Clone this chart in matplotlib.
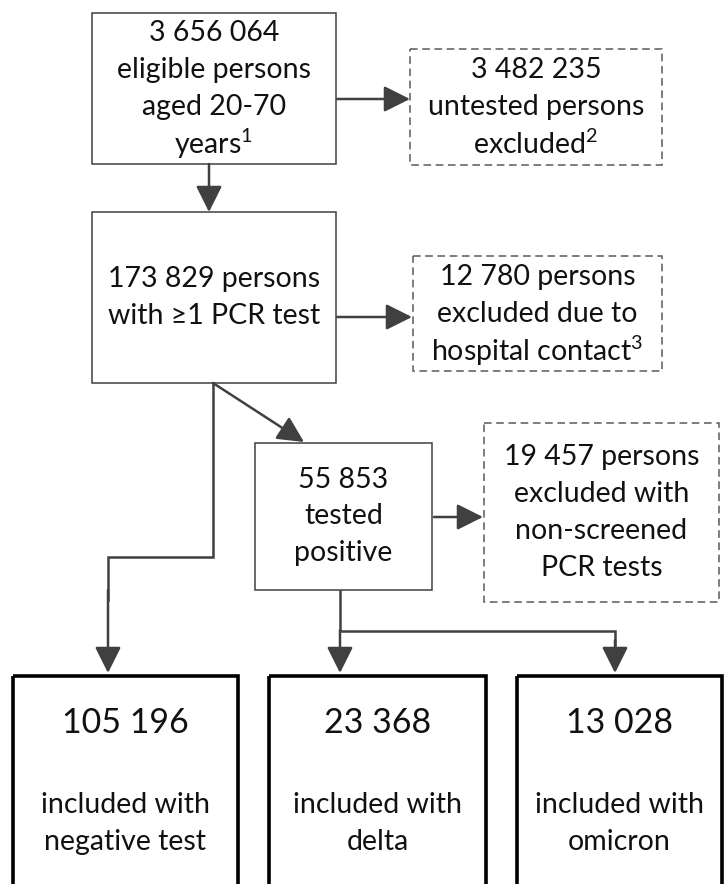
#!/usr/bin/env python3
# -*- coding: utf-8 -*-
"""Study population flowchart (PCR screening cohort)."""

import matplotlib

matplotlib.use("Agg")
import matplotlib.pyplot as plt
from matplotlib.patches import Rectangle

plt.rcParams["font.family"] = ["Lato", "DejaVu Sans"]
plt.rcParams["mathtext.fontset"] = "custom"
plt.rcParams["mathtext.rm"] = "Lato"
plt.rcParams["mathtext.it"] = "Lato:italic"

# box texts (counts and descriptions)
eligible_lines = ["3 656 064", "eligible persons", "aged 20-70", r"years$^{\mathrm{1}}$"]
untested_lines = ["3 482 235", "untested persons", r"excluded$^{\mathrm{2}}$"]
tested_lines = ["173 829 persons", "with \u22651 PCR test"]
hospital_lines = ["12 780 persons", "excluded due to", r"hospital contact$^{\mathrm{3}}$"]
positive_lines = ["55 853", "tested", "positive"]
nonscreen_lines = ["19 457 persons", "excluded with", "non-screened", "PCR tests"]
final_counts = ["105 196", "23 368", "13 028"]
final_labels = [["included with", "negative test"], ["included with", "delta"],
                ["included with", "omicron"]]

LINE = "#404040"
DASH = "#5a5a5a"
TXT = "#111111"
FS = 20.5
STEP = 37


def box(ax, x0, y0, x1, y1, lines, dashed=False, lw=1.1, color=LINE):
    ax.add_patch(Rectangle((x0, y0), x1 - x0, y1 - y0, fill=False,
                           ec=DASH if dashed else color, lw=lw,
                           ls=(0, (5, 3)) if dashed else "-"))
    yc = (y0 + y1) / 2
    n = len(lines)
    for i, s in enumerate(lines):
        ax.text((x0 + x1) / 2, yc + (i - (n - 1) / 2) * STEP, s, ha="center",
                va="center", fontsize=FS, color=TXT)


def arrow(ax, p0, p1):
    ax.annotate("", xy=p1, xytext=p0,
                arrowprops=dict(arrowstyle="-|>,head_length=0.8,head_width=0.4",
                                mutation_scale=20, lw=1.8, color=LINE,
                                shrinkA=0, shrinkB=0))


def seg(ax, xs, ys):
    ax.plot(xs, ys, color=LINE, lw=1.8, solid_capstyle="projecting",
            solid_joinstyle="miter")


fig = plt.figure(figsize=(7.24, 8.84), dpi=100)
ax = fig.add_axes([0, 0, 1, 1])
ax.set_xlim(0, 724)
ax.set_ylim(884, 0)
ax.axis("off")

box(ax, 92, 13, 336, 164, eligible_lines)
box(ax, 410, 49, 662, 165, untested_lines, dashed=True)
box(ax, 92, 212, 336, 383, tested_lines)
box(ax, 413, 256, 662, 371, hospital_lines, dashed=True)
box(ax, 255, 443, 432, 590, positive_lines)
box(ax, 484, 423, 719, 602, nonscreen_lines, dashed=True)

arrow(ax, (209, 164), (209, 212))
arrow(ax, (337, 99), (410, 99))
arrow(ax, (337, 317), (412, 317))
arrow(ax, (213, 383), (304, 442))
arrow(ax, (434, 517), (483, 517))

seg(ax, [213, 213, 108, 108], [384, 557, 557, 600])
arrow(ax, (108, 590), (108, 673))

seg(ax, [340, 340, 615, 615], [591, 631, 631, 650])
arrow(ax, (340, 630), (340, 673))
arrow(ax, (615, 640), (615, 673))

# bottom cohorts, running off the bottom edge
final_x = [(13, 238), (269, 486), (517, 722)]
for (x0, x1), cnt, lab in zip(final_x, final_counts, final_labels):
    ax.add_patch(Rectangle((x0, 676), x1 - x0, 260, fill=False, ec="#000000",
                           lw=2.6, clip_on=True))
    xc = (x0 + x1) / 2
    ax.text(xc, 723, cnt, ha="center", va="center", fontsize=24.5, color=TXT)
    ax.text(xc, 805, lab[0], ha="center", va="center", fontsize=FS, color=TXT)
    ax.text(xc, 842, lab[1], ha="center", va="center", fontsize=FS, color=TXT)

fig.savefig("out.png", dpi=100)
plt.close(fig)
